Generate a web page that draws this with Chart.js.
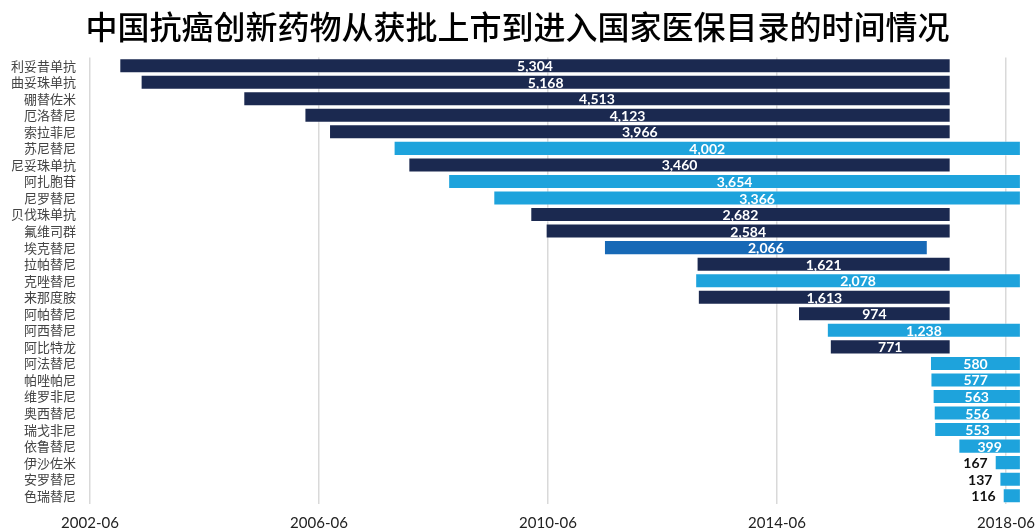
<!DOCTYPE html>
<html>
<head>
<meta charset="utf-8">
<script src="https://cdn.jsdelivr.net/npm/chart.js@4"></script>
<style>
  html, body { margin: 0; padding: 0; background: #fff; }
  #wrap { width: 1035px; height: 531px; }
</style>
</head>
<body>
<div id="wrap"><canvas id="myChart"></canvas></div>
<script>
// drug names, days from approval to NRDL listing, listing date
const drugs = ['利妥昔单抗', '曲妥珠单抗', '硼替佐米', '厄洛替尼', '索拉菲尼', '苏尼替尼', '尼妥珠单抗',
  '阿扎胞苷', '尼罗替尼', '贝伐珠单抗', '氟维司群', '埃克替尼', '拉帕替尼', '克唑替尼', '来那度胺',
  '阿帕替尼', '阿西替尼', '阿比特龙', '阿法替尼', '帕唑帕尼', '维罗非尼', '奥西替尼', '瑞戈非尼',
  '依鲁替尼', '伊沙佐米', '安罗替尼', '色瑞替尼']
const days = [5304, 5168, 4513, 4123, 3966, 4002, 3460, 3654, 3366, 2682, 2584, 2066, 1621, 2078, 1613,
  974, 1238, 771, 580, 577, 563, 556, 553, 399, 167, 137, 116]
const listedOn = ['2017-07-19', '2017-07-19', '2017-07-19', '2017-07-19', '2017-07-19', '2018-10-10', '2017-07-19',
  '2018-10-10', '2018-10-10', '2017-07-19', '2017-07-19', '2017-02-23', '2017-07-19', '2018-10-10', '2017-07-19',
  '2017-07-19', '2018-10-10', '2017-07-19', '2018-10-10', '2018-10-10', '2018-10-10', '2018-10-10', '2018-10-10',
  '2018-10-10', '2018-10-10', '2018-10-10', '2018-10-10']

const xTickLabels = ['2002-06', '2006-06', '2010-06', '2014-06', '2018-06']
const xTickDates = ['2002-07-07', '2006-07-07', '2010-07-07', '2014-07-07', '2018-07-07']

const DAY = 86400000
const colorByDate = {
  '2017-07-19': '#1b2950',
  '2017-02-23': '#1769b6',
  '2018-10-10': '#1ea3dc'
}

let bars = drugs.map((d, i) => {
  let end = Date.parse(listedOn[i])
  return [end - days[i] * DAY, end]
})
let tickValues = xTickDates.map(d => Date.parse(d))

const barLabels = {
  id: 'barLabels',
  afterDatasetsDraw(chart) {
    const ctx = chart.ctx
    const meta = chart.getDatasetMeta(0)
    ctx.save()
    ctx.font = 'bold 14px Lato'
    ctx.textBaseline = 'middle'
    meta.data.forEach((bar, i) => {
      let txt = days[i].toLocaleString('en-US')
      let w = ctx.measureText(txt).width
      let left = Math.min(bar.x, bar.base)
      let right = Math.max(bar.x, bar.base)
      if (right - left > w + 10) {
        ctx.fillStyle = '#ffffff'
        ctx.textAlign = 'center'
        ctx.fillText(txt, (left + right) / 2, bar.y + 1)
      } else {
        ctx.fillStyle = '#111111'
        ctx.textAlign = 'right'
        ctx.fillText(txt, left - 7, bar.y + 1)
      }
    })
    ctx.restore()
  }
}

const config = {
  type: 'bar',
  data: {
    labels: drugs,
    datasets: [{
      data: bars,
      backgroundColor: listedOn.map(d => colorByDate[d]),
      borderColor: 'rgba(255,255,255,0.35)',
      borderWidth: 1,
      borderSkipped: false,
      barPercentage: 0.91,
      categoryPercentage: 1
    }]
  },
  options: {
    indexAxis: 'y',
    responsive: true,
    maintainAspectRatio: false,
    animation: false,
    layout: { padding: 0 },
    plugins: {
      legend: { display: false },
      tooltip: { enabled: false },
      title: {
        display: true,
        text: '中国抗癌创新药物从获批上市到进入国家医保目录的时间情况',
        color: '#000',
        font: { family: '"Noto Sans CJK SC"', size: 32, weight: 500, lineHeight: 1.2 },
        padding: { top: 8, bottom: 11 }
      }
    },
    scales: {
      x: {
        type: 'linear',
        min: tickValues[0],
        max: tickValues[0] + 6029 * DAY,
        afterBuildTicks: scale => { scale.ticks = tickValues.map(v => ({ value: v })) },
        afterFit: scale => {
          scale.height = 27
          scale.paddingRight = 0
          scale.paddingLeft = 0
        },
        ticks: {
          autoSkip: false,
          maxRotation: 0,
          padding: 10,
          color: '#222',
          font: { family: 'Lato', size: 15 },
          callback: (v, i) => xTickLabels[i]
        },
        grid: { color: '#d9d9d9', lineWidth: 1.5, drawTicks: false },
        border: { display: false }
      },
      y: {
        afterFit: scale => { scale.width = 90 },
        ticks: {
          autoSkip: false,
          padding: 14,
          color: '#444',
          font: { family: '"Noto Sans CJK SC"', size: 13 }
        },
        grid: { display: false, drawTicks: false },
        border: { display: false }
      }
    }
  },
  plugins: [barLabels]
}

window.myChart = new Chart(document.getElementById('myChart'), config)
</script>
</body>
</html>
